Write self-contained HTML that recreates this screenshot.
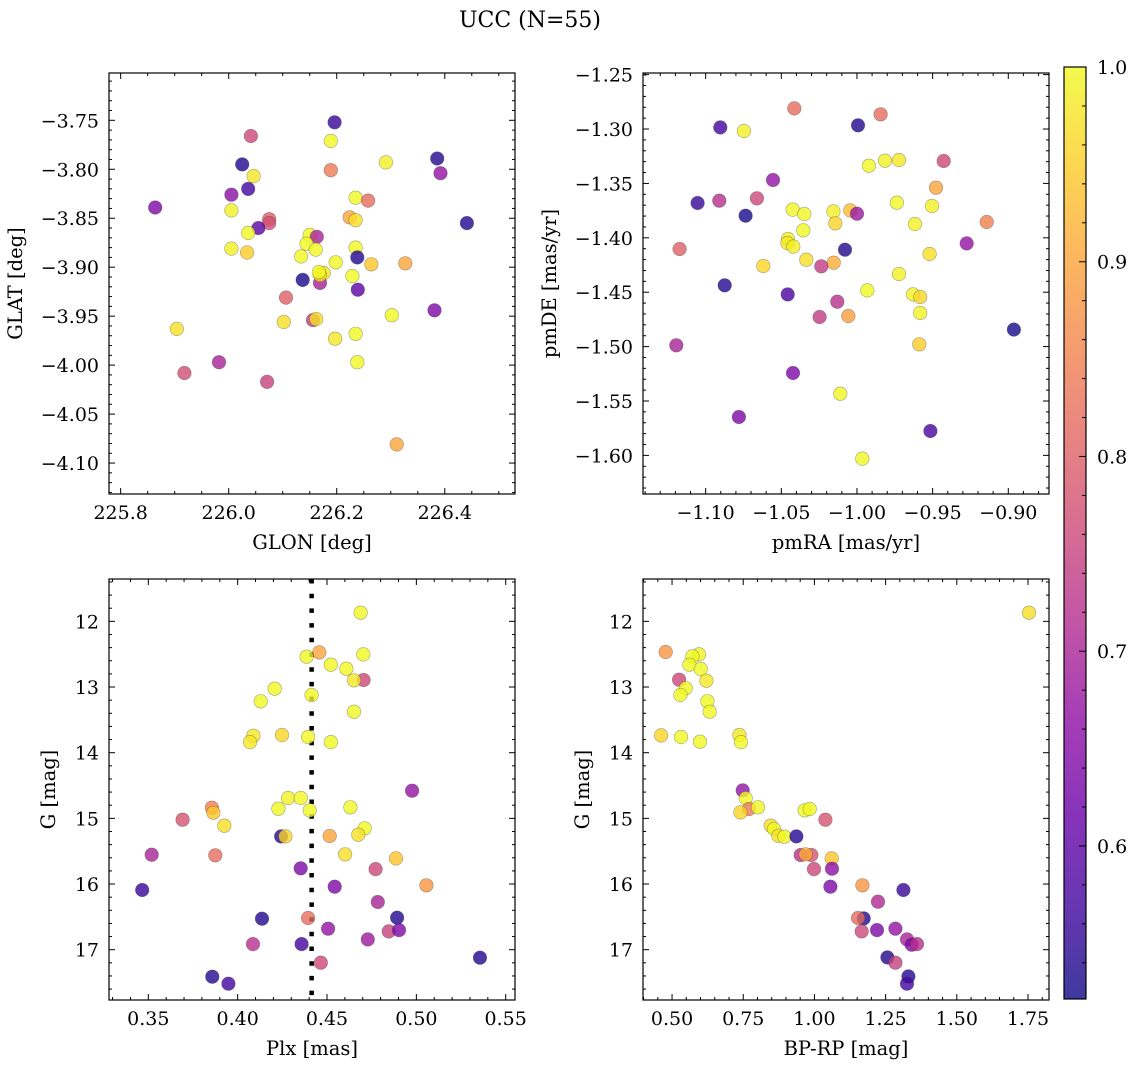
<!DOCTYPE html>
<html><head><meta charset="utf-8"><style>
html,body{margin:0;padding:0;background:#fff;}
svg{display:block;font-family:"DejaVu Serif","Liberation Serif",serif;}
</style></head><body>
<svg id="fig" width="1136" height="1067" viewBox="0 0 1136 1067" xmlns="http://www.w3.org/2000/svg">
<rect width="1136" height="1067" fill="#fff"/>
<text x="530" y="27" font-size="22" text-anchor="middle">UCC (N=55)</text>
</svg>
<script>
const glon1=[226.196,226.041,226.189,226.025,226.386,226.291,226.046,226.189,226.392,226.005,226.036,225.864,226.235,226.258,226.005,226.224,226.235,226.075,226.075,226.055,226.441,226.036,226.150,226.163,226.144,226.005,226.034,226.161,226.235,226.238,226.134,226.198,226.264,226.327,226.176,226.169,226.169,226.167,226.229,226.137,226.239,226.106,226.381,226.302,226.102,226.156,226.162,225.904,226.235,226.197,225.982,226.238,225.918,226.071,226.311];
const glat1=[-3.752,-3.766,-3.771,-3.795,-3.789,-3.793,-3.807,-3.801,-3.804,-3.826,-3.820,-3.839,-3.829,-3.832,-3.842,-3.849,-3.852,-3.851,-3.855,-3.860,-3.855,-3.865,-3.867,-3.869,-3.876,-3.881,-3.885,-3.882,-3.880,-3.890,-3.889,-3.895,-3.897,-3.896,-3.906,-3.916,-3.908,-3.905,-3.909,-3.913,-3.923,-3.931,-3.944,-3.949,-3.956,-3.954,-3.953,-3.963,-3.968,-3.973,-3.997,-3.997,-4.008,-4.017,-4.081];
const prob1=[0.56,0.76,1.0,0.54,0.54,0.99,0.98,0.84,0.67,0.66,0.57,0.64,1.0,0.82,0.99,0.90,0.97,0.80,0.77,0.60,0.54,1.0,1.0,0.70,1.0,0.99,0.95,1.0,1.0,0.54,1.0,1.0,0.94,0.90,0.98,0.70,0.98,1.0,1.0,0.53,0.60,0.80,0.64,1.0,0.97,0.74,0.97,0.97,1.0,0.98,0.70,1.0,0.77,0.75,0.90];

const pmra2=[-1.0414,-0.9844,-1.0903,-1.0747,-0.9993,-0.9921,-0.9815,-0.9722,-0.9427,-1.0555,-0.9478,-1.1053,-1.0910,-1.0661,-0.9736,-0.9504,-1.0736,-1.0425,-1.0348,-1.0156,-1.0044,-1.0000,-1.0143,-0.9617,-0.9143,-1.0355,-1.0456,-1.0460,-1.0421,-0.9275,-1.0079,-1.1172,-0.9520,-1.0335,-1.0154,-1.0236,-1.0619,-0.9722,-1.0874,-0.9932,-1.0458,-0.9630,-0.9582,-1.0130,-0.9582,-1.0247,-1.0057,-0.8963,-1.1194,-0.9588,-1.0423,-1.0110,-1.0780,-0.9515,-0.9965];
const pmde2=[-1.2810,-1.2865,-1.2985,-1.3018,-1.2966,-1.3337,-1.3291,-1.3285,-1.3294,-1.3469,-1.3539,-1.3680,-1.3659,-1.3637,-1.3677,-1.3708,-1.3797,-1.3741,-1.3781,-1.3757,-1.3748,-1.3778,-1.3867,-1.3873,-1.3855,-1.3931,-1.4011,-1.4048,-1.4081,-1.4051,-1.4109,-1.4103,-1.4149,-1.4201,-1.4229,-1.4262,-1.4259,-1.4333,-1.4437,-1.4483,-1.4520,-1.4520,-1.4544,-1.4587,-1.4691,-1.4728,-1.4719,-1.4844,-1.4988,-1.4979,-1.5243,-1.5433,-1.5647,-1.5776,-1.6030];
const prob2=[0.82,0.82,0.57,0.99,0.54,1.0,0.99,0.98,0.76,0.67,0.90,0.56,0.72,0.76,1.0,0.99,0.53,1.0,1.0,0.99,0.93,0.68,0.96,0.99,0.85,1.0,0.99,0.98,0.99,0.67,0.54,0.80,0.97,0.97,0.91,0.74,0.96,0.99,0.54,1.0,0.58,0.99,0.96,0.72,0.99,0.74,0.89,0.53,0.70,0.95,0.64,1.0,0.64,0.58,1.0];

const plx3=[0.4688,0.4457,0.4386,0.4703,0.4521,0.4608,0.4705,0.4651,0.4207,0.4414,0.4129,0.4651,0.4088,0.4069,0.4248,0.4394,0.4522,0.4976,0.4282,0.4353,0.3856,0.3864,0.4228,0.4403,0.4631,0.3692,0.3925,0.4711,0.4675,0.4243,0.4267,0.4515,0.3519,0.3875,0.4601,0.4886,0.4353,0.4772,0.3466,0.4543,0.5056,0.4784,0.4136,0.4394,0.4892,0.4506,0.4845,0.4903,0.4086,0.4358,0.4728,0.5356,0.4465,0.3858,0.3948];
const g3=[11.868,12.472,12.538,12.503,12.660,12.721,12.893,12.898,13.025,13.122,13.218,13.376,13.741,13.838,13.731,13.761,13.838,14.579,14.690,14.690,14.838,14.914,14.853,14.878,14.832,15.020,15.112,15.152,15.249,15.274,15.274,15.269,15.553,15.563,15.548,15.609,15.761,15.772,16.091,16.041,16.020,16.274,16.528,16.518,16.513,16.680,16.721,16.701,16.914,16.914,16.843,17.122,17.198,17.411,17.518];
const prob3=[1.0,0.90,1.0,1.0,1.0,1.0,0.76,0.98,1.0,1.0,1.0,1.0,0.98,0.98,0.96,1.0,1.0,0.67,0.99,1.0,0.85,0.94,1.0,1.0,1.0,0.78,0.97,1.0,0.97,0.54,0.96,0.90,0.70,0.82,0.97,0.94,0.64,0.76,0.56,0.64,0.88,0.70,0.54,0.82,0.54,0.67,0.75,0.64,0.72,0.57,0.68,0.54,0.76,0.54,0.57];
const plxMedian=[0.4414];

const bprp4=[1.7535,0.4778,0.5948,0.5714,0.5609,0.6007,0.5246,0.6206,0.5480,0.5293,0.6241,0.6323,0.4614,0.5316,0.5983,0.7364,0.7423,0.7481,0.7587,0.7704,0.7399,0.8020,0.9658,0.9834,1.0384,0.8464,0.8581,0.8734,0.8944,0.9366,0.9518,0.9892,0.9693,1.0606,1.0618,0.9986,1.0559,1.1683,1.3123,1.2233,1.1730,1.1531,1.1660,1.2198,1.2842,1.3251,1.3415,1.3602,1.2561,1.2842,1.3298,1.3251];
const g4=[11.868,12.467,12.503,12.533,12.660,12.726,12.888,12.904,13.020,13.122,13.218,13.376,13.736,13.761,13.832,13.731,13.838,14.574,14.695,14.858,14.909,14.832,14.878,14.858,15.020,15.112,15.162,15.264,15.279,15.274,15.558,15.558,15.548,15.609,15.766,15.772,16.041,16.020,16.091,16.269,16.523,16.518,16.721,16.701,16.680,16.843,16.924,16.914,17.117,17.198,17.406,17.518];
const prob4=[0.97,0.88,0.99,1.0,1.0,1.0,0.76,0.98,1.0,1.0,1.0,1.0,0.96,1.0,1.0,0.98,1.0,0.67,1.0,0.84,0.96,1.0,1.0,1.0,0.78,0.97,1.0,0.97,1.0,0.54,0.72,0.78,0.91,0.94,0.66,0.76,0.64,0.88,0.56,0.71,0.54,0.82,0.76,0.64,0.67,0.70,0.64,0.72,0.54,0.75,0.54,0.57];

const cbTicks=[0.6,0.7,0.8,0.9,1.0];
const VMIN=0.5214, VMAX=1.0;

const NS="http://www.w3.org/2000/svg";
const svg=document.getElementById('fig');
function mk(tag,attrs,parent){const e=document.createElementNS(NS,tag);for(const k in attrs)e.setAttribute(k,attrs[k]);(parent||svg).appendChild(e);return e;}
const plasma=["#0d0887","#41049d","#6a00a8","#8f0da4","#b12a90","#cc4778","#e16462","#f2844b","#fca636","#fcce25","#f0f921"];
function hex(h){return [parseInt(h.substr(1,2),16),parseInt(h.substr(3,2),16),parseInt(h.substr(5,2),16)];}
function cmap(v){let t=(v-VMIN)/(VMAX-VMIN);t=Math.max(0,Math.min(1,t));const s=t*10,i=Math.min(9,Math.floor(s)),f=s-i;const a=hex(plasma[i]),b=hex(plasma[i+1]);return `rgb(${a.map((x,k)=>Math.round(x+(b[k]-x)*f)).join(',')})`;}
function fmt(v,d){const s=Math.abs(v).toFixed(d);return (v<-1e-9?'\u2212':'')+s;}
const TFS=19, LFS=19.5;

function panel(o){
  const [L,T,R,B]=o.box;
  const sx=v=>L+(v-o.xd[0])/(o.xd[1]-o.xd[0])*(R-L);
  const sy=v=>T+(v-o.yd[0])/(o.yd[1]-o.yd[0])*(B-T);
  const g=mk('g',{});
  
  
  const clip=mk('clipPath',{id:o.name+'-clip'},g);
  mk('rect',{x:L,y:T,width:R-L,height:B-T},clip);
  const pts=mk('g',{'clip-path':`url(#${o.name}-clip)`},g);
  
  
  if(o.vline){
    const ln=mk('line',{x1:sx(o.vline),x2:sx(o.vline),y1:T,y2:B,stroke:'#000','stroke-width':4.5,'stroke-dasharray':'4.5 10.2'},pts);
    
    
  }
  for(let i=0;i<o.x.length;i++){
    const c=mk('circle',{cx:sx(o.x[i]).toFixed(1),cy:sy(o.y[i]).toFixed(1),r:6.8,fill:cmap(o.p[i]),'fill-opacity':0.8,stroke:'rgba(60,60,60,0.45)','stroke-width':0.6},pts);
    
    
  }
  const tg=mk('g',{stroke:'#000','stroke-width':1},g);
  
  
  const eps=1e-9;
  const xlo=Math.min(...o.xd),xhi=Math.max(...o.xd),ylo=Math.min(...o.yd),yhi=Math.max(...o.yd);
  for(let k=Math.ceil(xlo/o.xmin-eps);k*o.xmin<=xhi+eps;k++){
    const v=k*o.xmin;const isMaj=Math.abs(v/o.xmaj-Math.round(v/o.xmaj))<1e-6;const len=isMaj?6:3;const x=sx(v);
    mk('line',{x1:x,x2:x,y1:B,y2:B-len},tg);mk('line',{x1:x,x2:x,y1:T,y2:T+len},tg);
    if(isMaj){const t=mk('text',{x:x,y:B+25,'font-size':TFS,'text-anchor':'middle',stroke:'none'},g);t.textContent=fmt(v,o.xdec);
      }
  }
  for(let k=Math.ceil(ylo/o.ymin-eps);k*o.ymin<=yhi+eps;k++){
    const v=k*o.ymin;const isMaj=Math.abs(v/o.ymaj-Math.round(v/o.ymaj))<1e-6;const len=isMaj?6:3;const y=sy(v);
    mk('line',{x1:L,x2:L+len,y1:y,y2:y},tg);mk('line',{x1:R,x2:R-len,y1:y,y2:y},tg);
    if(isMaj){const t=mk('text',{x:L-10,y:y+7,'font-size':TFS,'text-anchor':'end',stroke:'none'},g);t.textContent=fmt(v,o.ydec);
      }
  }
  const fr=mk('rect',{x:L,y:T,width:R-L,height:B-T,fill:'none',stroke:'#000','stroke-width':1.2},g);
  
  const xl=mk('text',{x:(L+R)/2,y:B+55,'font-size':LFS,'text-anchor':'middle'},g);xl.textContent=o.xlab;
  
  const yx=L-o.ylabOff;
  const yl=mk('text',{x:yx,y:(T+B)/2,'font-size':LFS,'text-anchor':'middle',transform:`rotate(-90 ${yx} ${(T+B)/2})`},g);yl.textContent=o.ylab;
  
}

panel({name:'glon-glat-panel',box:[109,73,515,494],xd:[225.7784,226.530],yd:[-3.7017,-4.1316],x:glon1,y:glat1,p:prob1,xmaj:0.2,xmin:0.05,ymaj:0.05,ymin:0.01,xdec:1,ydec:2,xlab:'GLON [deg]',ylab:'GLAT [deg]',ylabOff:87});
panel({name:'pm-panel',box:[643,73,1049,494],xd:[-1.1414,-0.8731],yd:[-1.2485,-1.6355],x:pmra2,y:pmde2,p:prob2,xmaj:0.05,xmin:0.01,ymaj:0.05,ymin:0.01,xdec:2,ydec:2,xlab:'pmRA [mas/yr]',ylab:'pmDE [mas/yr]',ylabOff:87});
panel({name:'plx-g-panel',box:[109,579,515,1000],xd:[0.328,0.5552],yd:[11.355,17.766],x:plx3,y:g3,p:prob3,xmaj:0.05,xmin:0.01,ymaj:1,ymin:0.2,xdec:2,ydec:0,xlab:'Plx [mas]',ylab:'G [mag]',ylabOff:54,vline:plxMedian[0]});
panel({name:'cmd-panel',box:[643,579,1049,1000],xd:[0.398,1.8237],yd:[11.355,17.766],x:bprp4,y:g4,p:prob4,xmaj:0.25,xmin:0.05,ymaj:1,ymin:0.2,xdec:2,ydec:0,xlab:'BP-RP [mag]',ylab:'G [mag]',ylabOff:54});

(function(){
  const L=1064,R=1086,T=67,B=999;
  const g=mk('g',{});
  
  
  const defs=mk('defs',{},g);
  const lg=mk('linearGradient',{id:'cbgrad',x1:0,y1:1,x2:0,y2:0},defs);
  for(let i=0;i<=20;i++){const v=VMIN+(VMAX-VMIN)*i/20;mk('stop',{offset:i/20,'stop-color':cmap(v),'stop-opacity':0.8},lg);}
  mk('rect',{x:L,y:T,width:R-L,height:B-T,fill:'url(#cbgrad)'},g);
  const sy=v=>B-(v-VMIN)/(VMAX-VMIN)*(B-T);
  for(let k=Math.ceil(VMIN/0.02-1e-9);k*0.02<=VMAX+1e-9;k++){
    const v=k*0.02;const isMaj=Math.abs(v*10-Math.round(v*10))<1e-6;const y=sy(v);
    mk('line',{x1:R,x2:R-(isMaj?7:4),y1:y,y2:y,stroke:'#000','stroke-width':1},g);
  }
  cbTicks.forEach(v=>{const t=mk('text',{x:R+11,y:sy(v)+7,'font-size':TFS},g);t.textContent=v.toFixed(1);
    });
  const fr=mk('rect',{x:L,y:T,width:R-L,height:B-T,fill:'none',stroke:'#000','stroke-width':1.2},g);
  
})();
</script>
</body></html>
